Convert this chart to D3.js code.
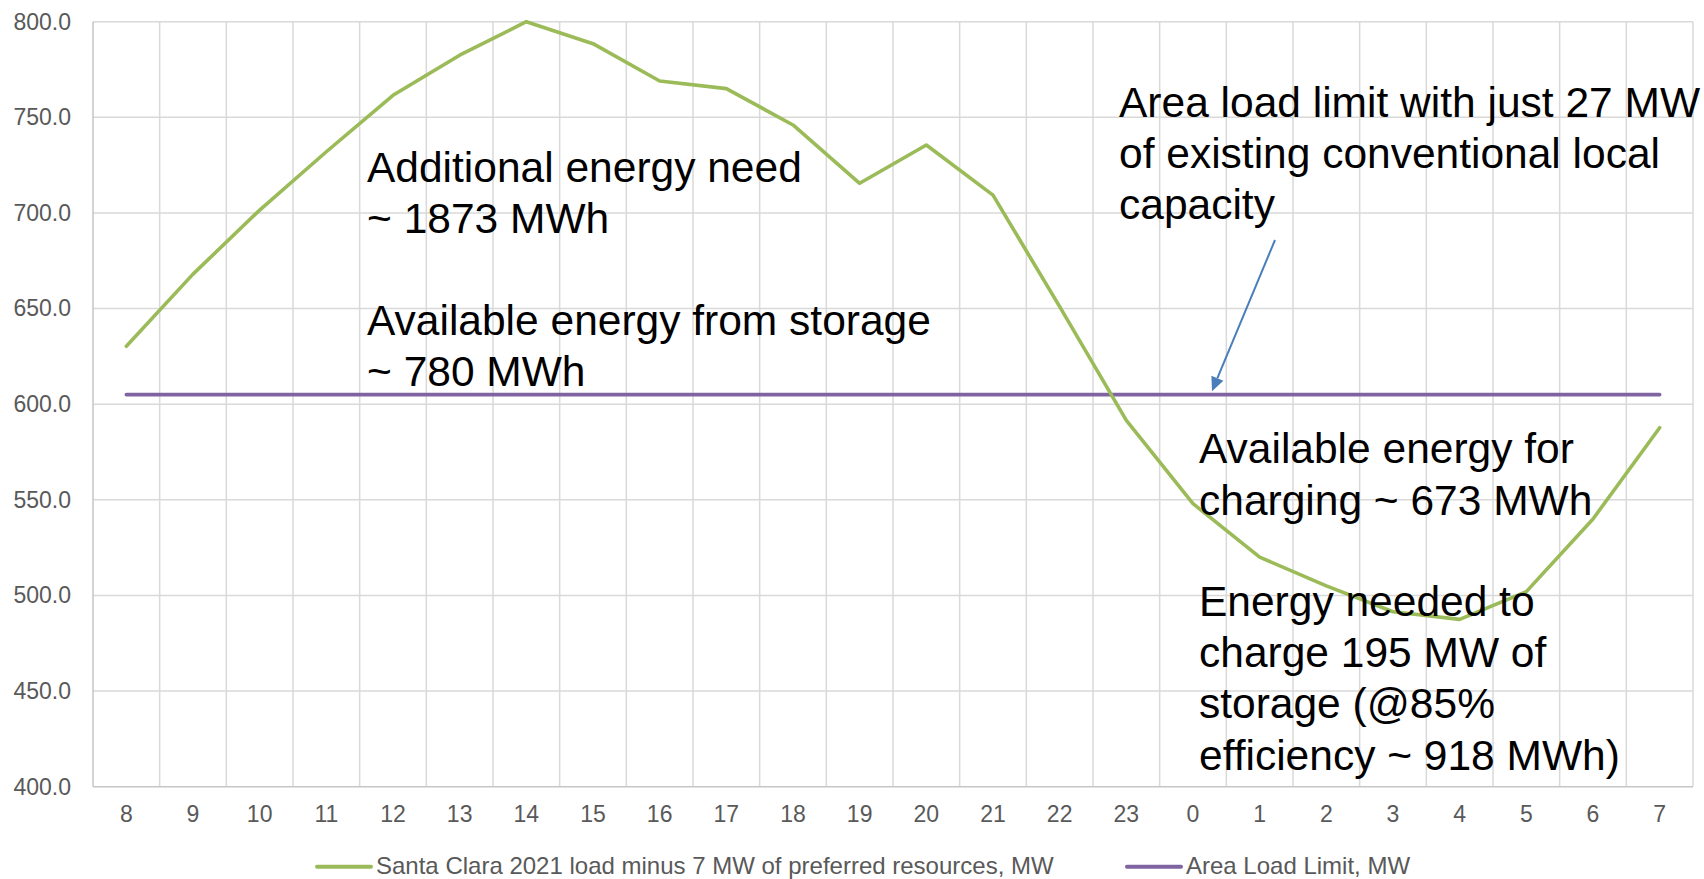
<!DOCTYPE html>
<html>
<head>
<meta charset="utf-8">
<script src="https://cdn.jsdelivr.net/npm/d3@7"></script>
<style>
  html, body { margin: 0; padding: 0; background: #ffffff; }
  svg { display: block; font-family: "Liberation Sans", Arial, sans-serif; }
</style>
</head>
<body>
<svg id="chart" width="1704" height="879"></svg>
<script>
// ---- data ----
const hours = ["8","9","10","11","12","13","14","15","16","17","18","19","20","21","22","23","0","1","2","3","4","5","6","7"];
const loadValues = [630.3, 668, 701.5, 732, 761.5, 782.5, 800, 788.5, 769, 765, 746, 715.5, 735.5, 709.3, 651, 591.5, 548, 520, 505, 491.5, 487.5, 502, 540, 587.7];
const limitValues = [605, 605, 605, 605, 605, 605, 605, 605, 605, 605, 605, 605, 605, 605, 605, 605, 605, 605, 605, 605, 605, 605, 605, 605];
const yTicks = [400, 450, 500, 550, 600, 650, 700, 750, 800];
const seriesNames = ["Santa Clara 2021 load minus 7 MW of preferred resources, MW", "Area Load Limit, MW"];
const seriesColors = ["#9bbb59", "#8064a2"];

const annotations = [
  { x: 367, y: 181.7, lines: ["Additional energy need", "~ 1873 MWh"] },
  { x: 367, y: 335, lines: ["Available energy from storage", "~ 780 MWh"] },
  { x: 1119, y: 116.7, lines: ["Area load limit with just 27 MW", "of existing conventional local", "capacity"] },
  { x: 1199, y: 463.3, lines: ["Available energy for", "charging ~ 673 MWh"] },
  { x: 1199, y: 616, lines: ["Energy needed to", "charge 195 MW of", "storage (@85%", "efficiency ~ 918 MWh)"] }
];

(function () {
// ---- layout ----
const svg = d3.select("#chart");
const pLeft = 93, pRight = 1693, pTop = 21.7, pBottom = 786.7;

const x = d3.scaleBand().domain(hours).range([pLeft, pRight]).padding(0);
const y = d3.scaleLinear().domain([400, 800]).range([pBottom, pTop]);
const cx = h => x(h) + x.bandwidth() / 2;

svg.append("rect").attr("width", 1704).attr("height", 879).attr("fill", "#ffffff");

// grid
const grid = svg.append("g");
grid.selectAll("line.h").data(yTicks.filter(v => v !== 400)).join("line")
  .attr("x1", pLeft).attr("x2", pRight)
  .attr("y1", d => y(d)).attr("y2", d => y(d))
  .attr("stroke", "#d9d9d9").attr("stroke-width", 1.5);
const vBounds = hours.map(h => x(h)).concat([pRight]);
grid.selectAll("line.v").data(vBounds.slice(1)).join("line")
  .attr("x1", d => d).attr("x2", d => d)
  .attr("y1", pTop).attr("y2", pBottom)
  .attr("stroke", "#d9d9d9").attr("stroke-width", 1.5);

// axes lines
svg.append("line").attr("x1", pLeft).attr("x2", pLeft).attr("y1", pTop).attr("y2", pBottom)
  .attr("stroke", "#c6c6c6").attr("stroke-width", 1.5);
svg.append("line").attr("x1", pLeft).attr("x2", pRight).attr("y1", pBottom).attr("y2", pBottom)
  .attr("stroke", "#c6c6c6").attr("stroke-width", 1.5);

// y axis labels
const yAxis = svg.append("g").attr("transform", `translate(${pLeft},0)`)
  .call(d3.axisLeft(y).tickValues(yTicks).tickFormat(d3.format(".1f")).tickSize(0).tickPadding(22));
yAxis.select(".domain").remove();
yAxis.selectAll("text").attr("fill", "#595959").style("font-size", "23px")
  .style("font-family", '"Liberation Sans", Arial, sans-serif');

// x axis labels
const xAxis = svg.append("g").attr("transform", `translate(0,${pBottom})`)
  .call(d3.axisBottom(x).tickSize(0).tickPadding(19));
xAxis.select(".domain").remove();
xAxis.selectAll("text").attr("fill", "#595959").style("font-size", "23px")
  .style("font-family", '"Liberation Sans", Arial, sans-serif');

// lines
const lineGen = d3.line().x((d, i) => cx(hours[i])).y(d => y(d));
svg.append("path").datum(limitValues).attr("d", lineGen)
  .attr("fill", "none").attr("stroke", seriesColors[1]).attr("stroke-width", 3.6)
  .attr("stroke-linecap", "round");
svg.append("path").datum(loadValues).attr("d", lineGen)
  .attr("fill", "none").attr("stroke", seriesColors[0]).attr("stroke-width", 3.6)
  .attr("stroke-linejoin", "round").attr("stroke-linecap", "round");

// annotations
annotations.forEach(a => {
  const t = svg.append("text").attr("x", a.x).attr("y", a.y)
    .attr("fill", "#000000").style("font-size", "42.5px");
  a.lines.forEach((l, i) => {
    t.append("tspan").attr("x", a.x).attr("y", a.y + i * 51.2).text(l);
  });
});

// arrow
const start = [1275, 240];
const tip = [1212, y(605) - 3.5];
const dx = tip[0] - start[0], dy = tip[1] - start[1];
const len = Math.hypot(dx, dy);
const ux = dx / len, uy = dy / len;
const headL = 14, headW = 6.5;
const base = [tip[0] - ux * headL, tip[1] - uy * headL];
svg.append("line").attr("x1", start[0]).attr("y1", start[1]).attr("x2", base[0]).attr("y2", base[1])
  .attr("stroke", "#4a7ebb").attr("stroke-width", 2);
svg.append("polygon").attr("points", [
  tip,
  [base[0] - uy * headW, base[1] + ux * headW],
  [base[0] + uy * headW, base[1] - ux * headW]
].map(p => p.join(",")).join(" ")).attr("fill", "#4a7ebb");

// legend
const legendItems = [
  { x1: 317, text: seriesNames[0], color: seriesColors[0] },
  { x1: 1127, text: seriesNames[1], color: seriesColors[1] }
];
const lg = svg.append("g");
legendItems.forEach(it => {
  lg.append("line").attr("x1", it.x1).attr("x2", it.x1 + 54).attr("y1", 866.7).attr("y2", 866.7)
    .attr("stroke", it.color).attr("stroke-width", 4).attr("stroke-linecap", "round");
  lg.append("text").attr("x", it.x1 + 59).attr("y", 873.8).attr("fill", "#595959")
    .style("font-size", "24px").text(it.text);
});
})();
</script>
</body>
</html>
